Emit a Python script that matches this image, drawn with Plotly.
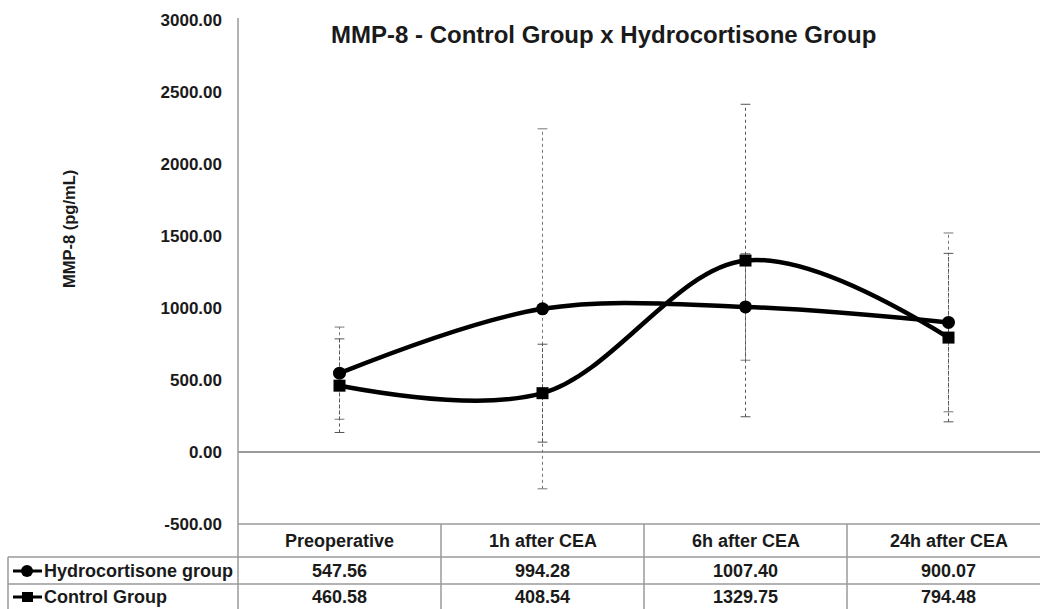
import plotly.graph_objects as go

categories = ["Preoperative", "1h after CEA", "6h after CEA", "24h after CEA"]
hydro_name = "Hydrocortisone group"
control_name = "Control Group"
hydro_vals = [547.56, 994.28, 1007.40, 900.07]
control_vals = [460.58, 408.54, 1329.75, 794.48]
hydro_err = [320, 1250, 370, 621]
control_err = [325, 340, 1085, 585]
y_ticks = [-500, 0, 500, 1000, 1500, 2000, 2500, 3000]

W, H = 1040, 609
L, R, T, B = 238, 0, 20, 85
FONT = "Liberation Sans"
xs = list(range(len(categories)))

fig = go.Figure()

def err_traces(vals, errs, color, dash):
    ex, ey, cx, cy = [], [], [], []
    for i, (v, e) in enumerate(zip(vals, errs)):
        ex += [i, i, None]
        ey += [v - e, v + e, None]
        cx += [i, i]
        cy += [v - e, v + e]
    fig.add_trace(go.Scatter(x=ex, y=ey, mode="lines", line=dict(color=color, width=1, dash=dash),
                             hoverinfo="skip", showlegend=False))
    fig.add_trace(go.Scatter(x=cx, y=cy, mode="markers",
                             marker=dict(symbol="line-ew", size=7, line=dict(color=color, width=1)),
                             hoverinfo="skip", showlegend=False))

err_traces(hydro_vals, hydro_err, "#777777", "dot")
err_traces(control_vals, control_err, "#555555", "dot")

fig.add_trace(go.Scatter(x=xs, y=hydro_vals, name=hydro_name, mode="lines+markers",
                         line=dict(color="black", width=4.5, shape="spline", smoothing=1.0),
                         marker=dict(symbol="circle", size=13, color="black")))
fig.add_trace(go.Scatter(x=xs, y=control_vals, name=control_name, mode="lines+markers",
                         line=dict(color="black", width=4.5, shape="spline", smoothing=1.0),
                         marker=dict(symbol="square", size=12, color="black")))

plot_w = W - L - R
x_lo = -0.5
x_hi = x_lo + plot_w / 203.0

fig.update_layout(
    width=W, height=H,
    margin=dict(l=L, r=R, t=T, b=B),
    paper_bgcolor="white", plot_bgcolor="white",
    showlegend=False,
    font=dict(family=FONT, color="#1a1a1a"),
    xaxis=dict(range=[x_lo, x_hi], showticklabels=False, showgrid=False, zeroline=False,
               showline=False, ticks=""),
    yaxis=dict(range=[-500, 3000], tickvals=y_ticks, ticktext=[f"{v:.2f}" for v in y_ticks],
               showgrid=False, zeroline=True, zerolinecolor="#9a9a9a", zerolinewidth=1.5,
               showline=False, ticks="", ticklabelstandoff=15,
               tickfont=dict(family=FONT, size=17, color="#1a1a1a", weight="bold")),
)

ph = H - T - B
def py(yp):
    return 1 - (yp - T) / ph
def px(xp):
    return (xp - L) / plot_w

fig.add_annotation(text="<b>MMP-8 - Control Group x Hydrocortisone Group</b>", xref="paper", yref="paper",
                   x=px(603), y=py(34), yanchor="middle", showarrow=False,
                   font=dict(family=FONT, size=24, color="#1a1a1a"))
fig.add_annotation(text="<b>MMP-8 (pg/mL)</b>", xref="paper", yref="paper",
                   x=px(58), y=py(229), textangle=-90,
                   showarrow=False, font=dict(family=FONT, size=16.5, color="#1a1a1a"))

grid = "#9a9a9a"
fig.add_shape(type="line", xref="paper", yref="paper", x0=0, x1=0, y0=py(18), y1=py(609),
              line=dict(color=grid, width=1.5))
fig.add_shape(type="line", xref="paper", yref="paper", x0=0, x1=1, y0=py(524), y1=py(524),
              line=dict(color=grid, width=1.5))
for yy in [557, 584]:
    fig.add_shape(type="line", xref="paper", yref="paper", x0=px(8), x1=1, y0=py(yy), y1=py(yy),
                  line=dict(color=grid, width=1.5))
fig.add_shape(type="line", xref="paper", yref="paper", x0=px(8), x1=px(8), y0=py(557), y1=py(609),
              line=dict(color=grid, width=1.5))
for i in range(1, len(categories)):
    fig.add_shape(type="line", xref="x", yref="paper", x0=i - 0.5, x1=i - 0.5, y0=py(524), y1=py(609),
                  line=dict(color=grid, width=1.5))

tfont = dict(family=FONT, size=18, color="#1a1a1a")
for i, c in enumerate(categories):
    fig.add_annotation(text=f"<b>{c}</b>", xref="x", yref="paper", x=i, y=py(541), showarrow=False,
                       yanchor="middle", font=tfont)
    fig.add_annotation(text=f"<b>{hydro_vals[i]:.2f}</b>", xref="x", yref="paper", x=i, y=py(571),
                       showarrow=False, yanchor="middle", font=tfont)
    fig.add_annotation(text=f"<b>{control_vals[i]:.2f}</b>", xref="x", yref="paper", x=i, y=py(597),
                       showarrow=False, yanchor="middle", font=tfont)

for name, yy, sym in [(hydro_name, 571, "circle"), (control_name, 597, "square")]:
    fig.add_annotation(text=f"<b>{name}</b>", xref="paper", yref="paper", x=px(42), y=py(yy),
                       xanchor="left", yanchor="middle", showarrow=False, font=tfont)
    fig.add_shape(type="line", xref="paper", yref="paper", x0=px(13), x1=px(42), y0=py(yy), y1=py(yy),
                  line=dict(color="black", width=3))
    if sym == "circle":
        fig.add_shape(type="circle", xref="paper", yref="paper", x0=px(21), x1=px(33),
                      y0=py(yy + 6), y1=py(yy - 6), fillcolor="black", line=dict(width=0))
    else:
        fig.add_shape(type="rect", xref="paper", yref="paper", x0=px(22), x1=px(33),
                      y0=py(yy + 5), y1=py(yy - 5), fillcolor="black", line=dict(width=0))

fig.write_html("out.html", config={"displayModeBar": False},
               post_script="document.body.style.margin='0';document.body.style.overflow='hidden';")
